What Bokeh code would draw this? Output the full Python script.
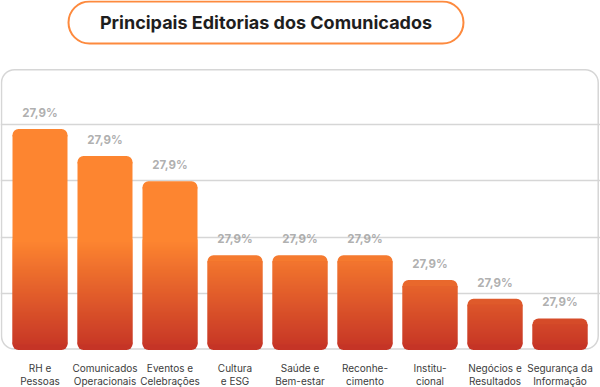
from bokeh.plotting import figure
from bokeh.models import Range1d, FixedTicker, BoxAnnotation, ColumnDataSource
from bokeh.core.properties import value
from bokeh.embed import file_html
from bokeh.resources import INLINE

# ---------------- data ----------------
categories = ["RH e\nPessoas", "Comunicados\nOperacionais", "Eventos e\nCelebrações",
              "Cultura\ne ESG", "Saúde e\nBem-estar", "Reconhe-\ncimento",
              "Institu-\ncional", "Negócios e\nResultados", "Segurança da\nInformação"]
values = [39.2, 34.4, 29.9, 16.8, 16.8, 16.8, 12.4, 9.1, 5.6]
value_labels = ["27,9%", "27,9%", "27,9%", "27,9%", "27,9%", "27,9%", "27,9%", "27,9%", "27,9%"]
grid_ticks = [10, 20, 30, 40]
title_text = "Principais Editorias dos Comunicados"

# ---------------- style ----------------
FONT = "Inter"
ORANGE = (253, 133, 48)
RED = (197, 52, 38)
GRAD_TOP = 19.4          # value above which bars are plain orange
BAR_W = 0.846
R_DATA = 1.06            # corner radius expressed in data units (vertical)
R_PX = 6
W, H = 600, 387
Y0, Y1 = -6.65, 61.97

def grad_color(y):
    g = max(0.0, min(1.0, y / GRAD_TOP))
    c = [round(RED[k] + (ORANGE[k] - RED[k]) * g) for k in range(3)]
    return "#%02x%02x%02x" % tuple(c)

n = len(categories)
xs = [i + 0.5 for i in range(n)]

p = figure(width=W, height=H, output_backend="svg", toolbar_location=None,
           x_range=Range1d(-0.1077, 9.123), y_range=Range1d(Y0, Y1),
           min_border=0, outline_line_color=None,
           background_fill_color="white", border_fill_color="white")
p.xaxis.visible = False
p.yaxis.visible = False
p.xgrid.visible = False
p.yaxis.ticker = FixedTicker(ticks=grid_ticks)
p.ygrid.ticker = FixedTicker(ticks=grid_ticks)
p.ygrid.grid_line_color = "#d6d6d6"
p.ygrid.grid_line_width = 1.5

# panel
panel = BoxAnnotation(left=-0.0923, right=9.088, bottom=0.18, top=49.7,
                      fill_alpha=0, line_color="#d6d6d6", line_alpha=1, line_width=1.5,
                      border_radius=13, level="underlay")
p.add_layout(panel)

# title pill
pill = BoxAnnotation(left=0.9385, right=7.015, bottom=54.34, top=61.79,
                     fill_alpha=0, line_color="#fd8a3e", line_alpha=1,
                     line_width=2, border_radius=21, level="underlay")
p.add_layout(pill)
p.text(x=[(0.9385 + 7.015) / 2], y=[58.1], text=[title_text],
       text_font=value(FONT), text_font_style="bold", text_font_size="18px",
       text_color="#1e1e1e", text_align="center", text_baseline="middle")

# bars: rounded bottom cap, gradient strips, rounded top cap
bot_src = ColumnDataSource(dict(x=xs, top=[2 * R_DATA] * n, color=[grad_color(0)] * n))
p.vbar(x="x", top="top", bottom=0, width=BAR_W, source=bot_src,
       fill_color="color", line_color=None, border_radius=R_PX)

top_src = ColumnDataSource(dict(x=xs, top=values, bottom=[v - 2 * R_DATA for v in values],
                                color=[grad_color(v) for v in values]))
p.vbar(x="x", top="top", bottom="bottom", width=BAR_W, source=top_src,
       fill_color="color", line_color=None, border_radius=R_PX)

px = (Y1 - Y0) / H                      # one screen pixel in data units
sl, sr, sb, st, sc = [], [], [], [], []
for x, t in zip(xs, values):
    upper = t - R_DATA
    k = int((R_DATA - Y0) / px)
    y = Y0 + k * px
    lim = min(upper, GRAD_TOP)
    while y < lim:
        sl.append(x - BAR_W / 2); sr.append(x + BAR_W / 2)
        sb.append(max(y, R_DATA * 0.5)); st.append(min(y + 2 * px, upper))
        sc.append(grad_color(y + px / 2))
        y += px
    if upper > GRAD_TOP:
        sl.append(x - BAR_W / 2); sr.append(x + BAR_W / 2)
        sb.append(GRAD_TOP); st.append(upper); sc.append(grad_color(GRAD_TOP))
strip_src = ColumnDataSource(dict(left=sl, right=sr, bottom=sb, top=st, color=sc))
p.quad(left="left", right="right", bottom="bottom", top="top", source=strip_src,
       fill_color="color", line_color=None)

# value labels
lab_src = ColumnDataSource(dict(x=xs, y=[v + 2.85 for v in values], text=value_labels))
p.text(x="x", y="y", text="text", source=lab_src, text_font=value(FONT),
       text_font_style="bold", text_font_size="11.5px", text_color="#9a9a9a",
       text_alpha=0.8, text_align="center", text_baseline="middle")

# category labels (two lines each)
line1 = [c.split("\n")[0] for c in categories]
line2 = [c.split("\n")[1] for c in categories]
c1 = ColumnDataSource(dict(x=xs, y=[-3.28] * n, text=line1))
c2 = ColumnDataSource(dict(x=xs, y=[-5.53] * n, text=line2))
for src in (c1, c2):
    p.text(x="x", y="y", text="text", source=src, text_font=value(FONT),
           text_font_size="10px", text_color="#3c3c3c", text_align="center",
           text_baseline="middle")

open("out.html", "w").write(file_html(p, INLINE))
